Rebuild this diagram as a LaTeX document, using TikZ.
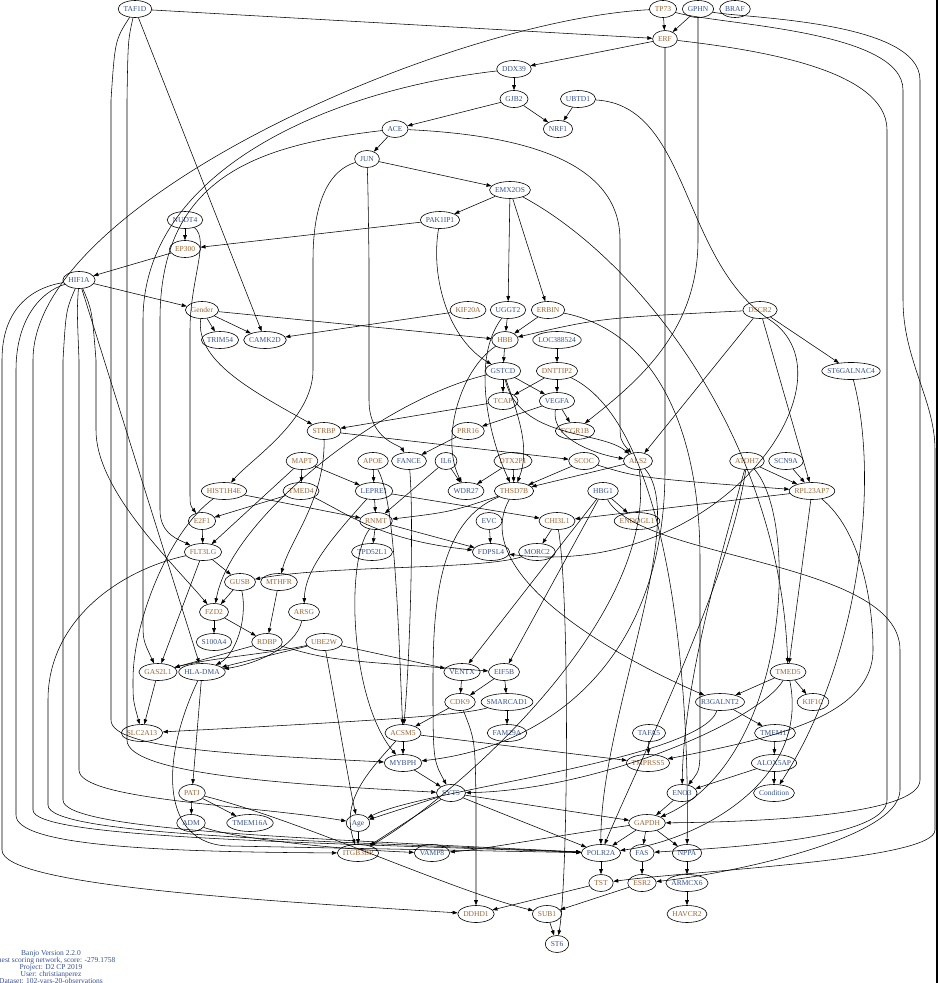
\documentclass[tikz,border=0pt]{standalone}
\usepackage{fontspec}
\setmainfont{Liberation Serif}
\usetikzlibrary{arrows.meta,shapes.geometric}
\definecolor{labO}{HTML}{9C6432}
\definecolor{labB}{HTML}{34508F}
\newcommand\gfont{\fontsize{7.5}{7}\selectfont}

\begin{document}
\begin{tikzpicture}[x=1pt,y=-1pt,
  gene/.style={ellipse, draw=black, line width=0.6pt, inner xsep=-30pt, inner ysep=-30pt,
               minimum height=17pt, text height=5.2pt, text depth=0pt, font=\gfont},
  lnk/.style={line width=0.55pt, -{Triangle[length=5pt,width=3.6pt]}}]
 \useasboundingbox (0,0) rectangle (940,983);
 \gfont
 \foreach \nm/\lab/\x/\y/\c in {
   TAF1D/TAF1D/135/9/B, TP73/TP73/663/9/O, GPHN/GPHN/698/9/B, BRAF/BRAF/735/9/B,
   ERF/ERF/665/39/O, DDX39/DDX39/514/69/B, GJB2/GJB2/514/99/B, UBTD1/UBTD1/578/99/B,
   NRF1/NRF1/558/129/B, ACE/ACE/395/129/B, JUN/JUN/367/159/B, EMX2OS/EMX2OS/510/190/B,
   PAK1IP1/PAK1IP1/440/220/B, NUDT4/NUDT4/185/220/B, EP300/EP300/185/249/O,
   HIF1A/HIF1A/79/280/B, Gender/Gender/202/310/O, KIF20A/KIF20A/468/310/O,
   UGGT2/UGGT2/508/310/B, ERBIN/ERBIN/548/310/O, DSCR2/DSCR2/760/310/O,
   TRIM54/TRIM54/220/340/B, CAMK2D/CAMK2D/265/340/B, HBB/HBB/505/340/O,
   LOC388524/LOC388524/557/340/B, ST6GALNAC4/ST6GALNAC4/851/371/B,
   GSTCD/GSTCD/503/371/B, DNTTIP2/DNTTIP2/557/371/O, TCAP/TCAP/503/401/O,
   VEGFA/VEGFA/557/401/B, STRBP/STRBP/324/431/O, PRR16/PRR16/468/431/O,
   FCGR1B/FCGR1B/575/431/O, MAPT/MAPT/302/461/O, APOE/APOE/373/461/O,
   FANCE/FANCE/409/461/B, IL6/IL6/446/461/B, DTX2P1/DTX2P1/513/461/O,
   SCOC/SCOC/584/461/O, ALS2/ALS2/638/461/O, ATOH7/ATOH7/747/461/O,
   SCN9A/SCN9A/786/461/B, HIST1H4E/HIST1H4E/224/491/O, TMED4/TMED4/301/491/O,
   LEPRE1/LEPRE1/374/491/B, WDR27/WDR27/466/491/B, THSD7B/THSD7B/514/491/O,
   HBG1/HBG1/603/491/B, RPL23AP7/RPL23AP7/812/491/O, E2F1/E2F1/202/521/O,
   RNMT/RNMT/376/521/O, EVC/EVC/489/521/B, CHI3L1/CHI3L1/557/521/O,
   ENDOGL1/ENDOGL1/637/521/O, FLT3LG/FLT3LG/203/552/O, TPD52L1/TPD52L1/372/552/B,
   FDPSL4/FDPSL4/491/552/B, MORC2/MORC2/537/552/B, GUSB/GUSB/240/582/O,
   MTHFR/MTHFR/279/582/O, FZD2/FZD2/214/612/O, ARSG/ARSG/304/612/O,
   S100A4/S100A4/214/642/B, RDBP/RDBP/267/642/O, UBE2W/UBE2W/324/642/O,
   GAS2L1/GAS2L1/158/672/O, HLADMA/HLA-DMA/202/672/B, VENTX/VENTX/462/672/B,
   EIF5B/EIF5B/504/672/B, TMED5/TMED5/788/672/O, CDK9/CDK9/460/702/O,
   SMARCAD1/SMARCAD1/507/702/B, R3GALNT2/R3GALNT2/720/702/B, KIF1C/KIF1C/813/702/O,
   SLC2A13/SLC2A13/142/733/O, ACSM5/ACSM5/403/733/O, FAM29A/FAM29A/507/733/B,
   TAFA5/TAFA5/649/733/B, TMEM17/TMEM17/775/733/B, MYBPH/MYBPH/403/763/B,
   TMPRSS5/TMPRSS5/648/763/O, ALOX5AP/ALOX5AP/774/763/B, SYT5/SYT5/451/793/B,
   ENO3/ENO3/682/793/B, Condition/Condition/774/793/B, PATJ/PATJ/192/793/O,
   ADM/ADM/191/823/B, TMEM16A/TMEM16A/250/823/B, Age/Age/358/823/B,
   GAPDH/GAPDH/647/823/O, ITGB3BP/ITGB3BP/358/853/O, VAMP8/VAMP8/432/853/B,
   POLR2A/POLR2A/601/853/B, FAS/FAS/642/853/B, NPPA/NPPA/687/853/B,
   TST/TST/601/883/O, ESR2/ESR2/642/883/O, ARMCX6/ARMCX6/687/883/B,
   DDHD1/DDHD1/476/914/O, SUB1/SUB1/547/914/O, HAVCR2/HAVCR2/687/914/O,
   ST6/ST6/557/944/B}{
   \pgfmathsetmacro{\gw}{width("\lab")+11}
   \node[gene, text=lab\c, minimum width=\gw pt] (\nm) at (\x,\y) {\lab};
 }
 \foreach \a/\b in {TAF1D/ERF, TP73/ERF, GPHN/ERF, ERF/DDX39, DDX39/GJB2, GJB2/NRF1,
   UBTD1/NRF1, GJB2/ACE, ACE/JUN, JUN/EMX2OS, EMX2OS/PAK1IP1, EMX2OS/UGGT2,
   EMX2OS/ERBIN, NUDT4/EP300, PAK1IP1/EP300, EP300/HIF1A, HIF1A/Gender, HIF1A/HLADMA,
   Gender/TRIM54, Gender/CAMK2D, Gender/HBB, TAF1D/CAMK2D, KIF20A/CAMK2D,
   UGGT2/HBB, ERBIN/HBB, HBB/GSTCD, LOC388524/DNTTIP2, GSTCD/TCAP, GSTCD/VEGFA,
   DNTTIP2/TCAP, DNTTIP2/VEGFA, VEGFA/FCGR1B, VEGFA/PRR16, TCAP/STRBP, STRBP/SCOC,
   DSCR2/ST6GALNAC4, DSCR2/ALS2, DSCR2/RPL23AP7, ATOH7/RPL23AP7, SCN9A/RPL23AP7,
   RPL23AP7/CHI3L1, RPL23AP7/TMED5, HBG1/ENDOGL1, EVC/FDPSL4, CHI3L1/MORC2,
   IL6/WDR27, DTX2P1/WDR27, DTX2P1/THSD7B, SCOC/THSD7B, ALS2/THSD7B, PRR16/FANCE,
   IL6/RNMT, APOE/LEPRE1, MAPT/LEPRE1, MAPT/TMED4, MAPT/FLT3LG, LEPRE1/RNMT,
   LEPRE1/CHI3L1, RNMT/TPD52L1, RNMT/FDPSL4, HIST1H4E/RNMT, TMED4/E2F1,
   E2F1/FLT3LG, FLT3LG/GUSB, FLT3LG/GAS2L1, GUSB/FZD2, FZD2/S100A4, FZD2/RDBP,
   MTHFR/RDBP, RDBP/GAS2L1, UBE2W/HLADMA, UBE2W/VENTX, GAS2L1/SLC2A13,
   HLADMA/PATJ, PATJ/ADM, PATJ/TMEM16A, VENTX/CDK9, EIF5B/CDK9, EIF5B/SMARCAD1,
   SMARCAD1/FAM29A, CDK9/ACSM5, ACSM5/MYBPH, ACSM5/TMPRSS5, MYBPH/SYT5, SYT5/Age,
   SYT5/ITGB3BP, SYT5/POLR2A, SYT5/GAPDH, Age/ITGB3BP, POLR2A/TST, TST/DDHD1,
   SUB1/ST6, ESR2/SUB1, GAPDH/FAS, GAPDH/NPPA, GAPDH/POLR2A, ENO3/GAPDH,
   ALOX5AP/ENO3, ALOX5AP/Condition, TMEM17/ALOX5AP, R3GALNT2/TMEM17,
   TMED5/R3GALNT2, TMED5/KIF1C, TAFA5/TMPRSS5, FAS/ESR2, NPPA/ARMCX6,
   ARMCX6/HAVCR2, HBG1/VENTX, HBG1/EIF5B}
   \draw[lnk] (\a) -- (\b);
 \draw[lnk] (HIF1A) .. controls (30,288) and (2,310) .. (2,360) -- (2,850) .. controls (2,885) and (250,900) .. (DDHD1);
 \draw[lnk] (HIF1A) .. controls (40,292) and (16,320) .. (16,370) -- (16,815) .. controls (16,845) and (150,852) .. (ITGB3BP);
 \draw[lnk] (TP73) .. controls (450,20) and (33,200) .. (33,360) -- (33,810) .. controls (33,838) and (300,842) .. (POLR2A);
 \draw[lnk] (FLT3LG) .. controls (120,570) and (48,620) .. (48,700) -- (48,805) .. controls (48,835) and (300,840) .. (POLR2A);
 \draw[lnk] (HIF1A) .. controls (66,310) .. (63,360) -- (63,800) .. controls (63,830) and (300,838) .. (POLR2A);
 \draw[lnk] (HIF1A) .. controls (77,310) .. (79,360) -- (79,770) .. controls (79,800) and (250,805) .. (Age);
 \draw[lnk] (HIF1A) .. controls (92,310) .. (96,360) -- (96,430) .. controls (96,490) and (170,560) .. (FZD2);
 \draw[lnk] (TAF1D) .. controls (115,40) .. (111,100) -- (111,720) .. controls (111,750) and (250,755) .. (MYBPH);
 \draw[lnk] (TAF1D) .. controls (128,40) .. (127,100) -- (127,740) .. controls (127,775) and (300,785) .. (SYT5);
 \draw[lnk] (DDX39) .. controls (330,90) and (143,170) .. (143,320) -- (143,620) .. controls (143,640) .. (GAS2L1);
 \draw[lnk] (ACE) .. controls (260,145) and (160,175) .. (160,320) -- (160,510) .. controls (160,535) and (180,540) .. (FLT3LG);
 \draw[lnk] (NUDT4) .. controls (210,240) and (190,280) .. (190,330) -- (190,490) .. controls (190,505) .. (E2F1);
 \draw[lnk] (JUN) .. controls (330,170) and (313,200) .. (313,260) -- (313,370) .. controls (313,420) and (250,460) .. (HIST1H4E);
 \draw[lnk] (JUN) .. controls (368,190) .. (369,260) -- (369,400) .. controls (369,440) and (400,445) .. (FANCE);
 \draw[lnk] (UBTD1) .. controls (690,105) and (680,260) .. (770,320) .. controls (860,380) and (720,580) .. (FDPSL4);
 \draw[lnk] (GPHN) .. controls (698,40) .. (698,120) -- (698,240) .. controls (698,330) and (640,380) .. (FCGR1B);
 \draw[lnk] (GPHN) .. controls (740,18) and (920,20) .. (920,80) -- (920,780) .. controls (920,815) and (760,822) .. (GAPDH);
 \draw[lnk] (TP73) .. controls (720,25) and (903,30) .. (903,90) -- (903,300) .. controls (903,360) and (935,400) .. (935,450) -- (935,830) .. controls (935,860) and (700,870) .. (TST);
 \draw[lnk] (ERF) .. controls (760,50) and (887,70) .. (887,130) -- (887,800) .. controls (887,840) and (720,848) .. (FAS);
 \draw[lnk] (ERF) .. controls (665,60) .. (665,130) -- (665,470) .. controls (665,650) and (560,745) .. (MYBPH);
 \draw[lnk] (ACE) .. controls (520,135) and (620,160) .. (620,240) -- (620,420) .. controls (620,440) .. (ALS2);
 \draw[lnk] (EMX2OS) .. controls (640,260) and (780,440) .. (TMED5);
 \draw[lnk] (PAK1IP1) .. controls (430,280) and (450,340) .. (GSTCD);
 \draw[lnk] (HBB) .. controls (460,370) and (440,440) .. (WDR27);
 \draw[lnk] (GSTCD) .. controls (520,420) and (530,450) .. (THSD7B);
 \draw[lnk] (GSTCD) .. controls (520,440) and (600,430) .. (ALS2);
 \draw[lnk] (GSTCD) .. controls (380,400) and (230,520) .. (FZD2);
 \draw[lnk] (VEGFA) .. controls (550,440) and (600,455) .. (ALS2);
 \draw[lnk] (DNTTIP2) .. controls (660,420) and (690,640) .. (NPPA);
 \draw[lnk] (ERBIN) .. controls (650,330) and (700,420) .. (700,560) -- (700,740) .. controls (700,770) .. (ENO3);
 \draw[lnk] (THSD7B) .. controls (440,520) and (433,600) .. (433,680) .. controls (433,760) .. (SYT5);
 \draw[lnk] (THSD7B) .. controls (470,570) and (600,650) .. (R3GALNT2);
 \draw[lnk] (THSD7B) .. controls (450,512) .. (RNMT);
 \draw[lnk] (APOE) .. controls (395,500) and (398,620) .. (ACSM5);
 \draw[lnk] (FANCE) .. controls (414,520) and (410,660) .. (ACSM5);
 \draw[lnk] (RNMT) .. controls (345,560) and (350,700) .. (MYBPH);
 \draw[lnk] (HBG1) .. controls (640,560) and (900,560) .. (900,650) -- (900,790) .. controls (900,840) and (720,875) .. (ESR2);
 \draw[lnk] (HIST1H4E) .. controls (170,530) and (133,620) .. (133,680) .. controls (133,700) .. (SLC2A13);
 \draw[lnk] (GUSB) .. controls (248,620) and (235,655) .. (HLADMA);
 \draw[lnk] (ARSG) .. controls (295,650) and (250,665) .. (HLADMA);
 \draw[lnk] (ACSM5) .. controls (370,770) and (340,800) .. (ITGB3BP);
 \draw[lnk] (CDK9) .. controls (475,740) .. (476,800) -- (DDHD1);
 \draw[lnk] (PATJ) .. controls (300,820) and (450,890) .. (SUB1);
 \draw[lnk] (HLADMA) .. controls (160,760) and (160,845) .. (230,846) -- (POLR2A);
 \draw[lnk] (ADM) .. controls (240,840) and (350,850) .. (VAMP8);
 \draw[lnk] (ALS2) .. controls (690,520) and (600,720) .. (POLR2A);
 \draw[lnk] (ATOH7) .. controls (730,580) and (640,760) .. (POLR2A);
 \draw[lnk] (ATOH7) .. controls (720,560) and (684,680) .. (ENO3);
 \draw[lnk] (ATOH7) .. controls (800,520) and (790,760) .. (GAPDH);
 \draw[lnk] (ST6GALNAC4) .. controls (880,480) and (860,660) .. (Condition);
 \draw[lnk] (RPL23AP7) .. controls (860,530) and (873,600) .. (873,650) .. controls (873,720) and (760,740) .. (TMPRSS5);
 \draw[lnk] (TMED5) .. controls (810,780) and (700,840) .. (POLR2A);
 \draw[lnk] (TMED5) .. controls (760,720) and (600,790) .. (SYT5);
 \draw[lnk] (R3GALNT2) .. controls (700,760) and (420,790) .. (Age);
 \draw[lnk] (CHI3L1) .. controls (570,600) and (568,880) .. (ST6);
 \draw[lnk] (ALS2) .. controls (660,620) and (450,800) .. (ITGB3BP);
 \draw[lnk] (LEPRE1) .. controls (330,540) and (305,570) .. (ARSG);
 \draw[lnk] (STRBP) .. controls (325,500) and (290,540) .. (MTHFR);
 \draw[lnk] (UBE2W) .. controls (335,700) and (350,790) .. (Age);
 \draw[lnk] (GAPDH) .. controls (560,835) and (480,850) .. (VAMP8);
 \draw[lnk] (UGGT2) .. controls (470,360) and (490,440) .. (THSD7B);
 \draw[lnk] (Gender) .. controls (195,360) and (250,390) .. (STRBP);
 \draw[lnk] (DSCR2) .. controls (600,318) .. (HBB);
 \draw[lnk] (SCOC) .. controls (640,478) .. (RPL23AP7);
 \draw[lnk] (TMED4) .. controls (350,515) and (380,540) .. (FDPSL4);
 \draw[lnk] (MORC2) .. controls (480,570) and (330,565) .. (GUSB);
 \draw[lnk] (UBE2W) .. controls (260,655) and (210,658) .. (GAS2L1);
 \draw[lnk] (RDBP) .. controls (330,660) .. (EIF5B);
 \draw[lnk] (SMARCAD1) .. controls (460,716) and (350,722) .. (SLC2A13);
 \draw[line width=1.2pt] (937,0) -- (937,983);
 \node[font=\gfont, text=labB, align=center, inner sep=0pt, anchor=north] (banjo) at (51,950)
   {Banjo Version 2.2.0\\Highest scoring network, score: -279.1758\\Project: D2 CP 2019\\
    User: christianperez\\Dataset: 102-vars-20-observations};
\end{tikzpicture}
\end{document}
